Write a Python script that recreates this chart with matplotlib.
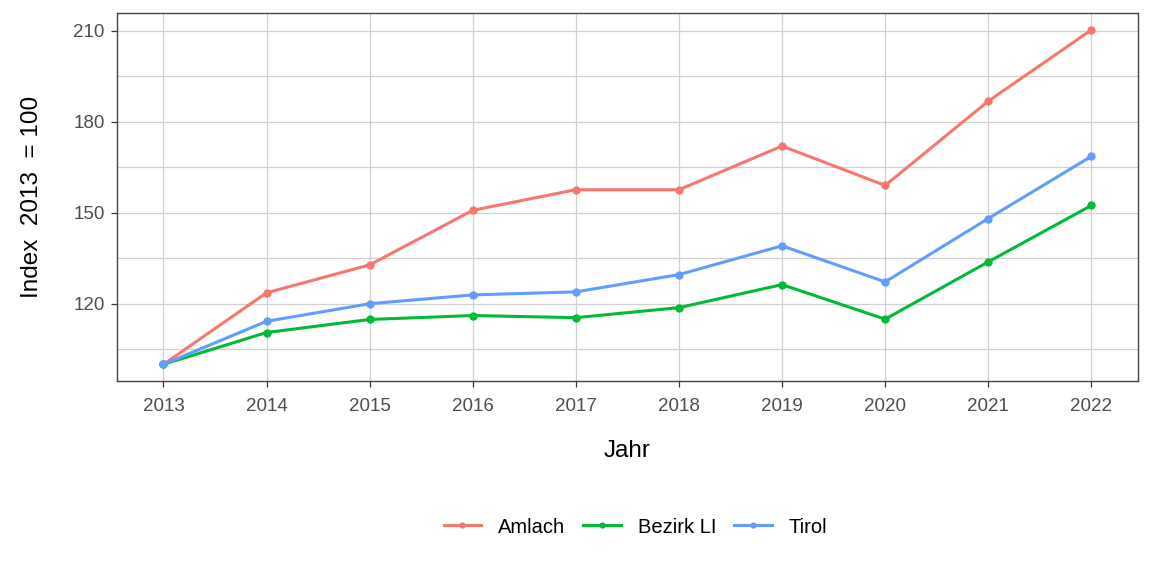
import matplotlib
matplotlib.use("Agg")
import matplotlib.pyplot as plt
from matplotlib.ticker import MultipleLocator

plt.rcParams['font.family'] = ['Liberation Sans', 'DejaVu Sans']

# data
years = [2013, 2014, 2015, 2016, 2017, 2018, 2019, 2020, 2021, 2022]
amlach = [100, 123.6, 132.8, 150.8, 157.6, 157.6, 172.0, 159.0, 186.8, 210.3]
bezirk = [100, 110.5, 114.8, 116.1, 115.4, 118.7, 126.3, 114.9, 133.8, 152.4]
tirol = [100, 114.2, 120.0, 122.9, 123.9, 129.6, 139.1, 127.2, 148.1, 168.6]

series = [("Amlach", amlach, "#F8766D"),
          ("Bezirk LI", bezirk, "#00BA38"),
          ("Tirol", tirol, "#619CFF")]

fig = plt.figure(figsize=(11.52, 5.76), dpi=100)
ax = fig.add_axes([0.1016, 0.3385, 0.886, 0.6385])

for name, vals, col in series:
    ax.plot(years, vals, color=col, lw=2.2, marker="o", ms=5, label=name)

ax.set_xlim(2012.55, 2022.45)
ax.set_ylim(94.5, 215.8)
ax.set_xticks(years)
ax.yaxis.set_minor_locator(MultipleLocator(15))
ax.set_yticks([120, 150, 180, 210])

ax.grid(True, which="major", color="#D0D0D0", lw=0.9)
ax.grid(True, which="minor", axis="y", color="#D0D0D0", lw=0.9)
ax.set_axisbelow(True)
ax.tick_params(axis="both", which="major", labelsize=13.5, colors="#333333",
               labelcolor="#4D4D4D", length=4, width=0.9, pad=5)
ax.tick_params(axis="x", which="major", pad=8)
ax.tick_params(axis="y", which="minor", length=0)
for s in ax.spines.values():
    s.set_color("#444444")
    s.set_linewidth(1.0)

ax.set_xlabel("Jahr", fontsize=17.5, labelpad=18)
ax.set_ylabel("Index  2013  = 100", fontsize=17.5, labelpad=22)

ax.legend(loc="center", bbox_to_anchor=(0.508, -0.397), ncol=3,
          frameon=False, fontsize=14.5, handlelength=1.85, columnspacing=0.9,
          handletextpad=0.85, markerscale=0.7)

fig.savefig("out.png", dpi=100)
